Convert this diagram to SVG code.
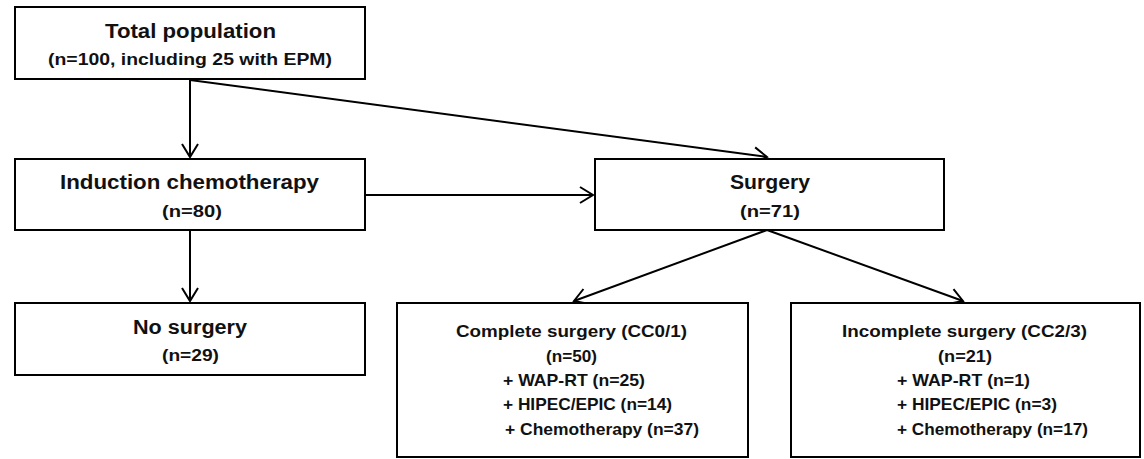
<svg xmlns="http://www.w3.org/2000/svg" width="1144" height="459" viewBox="0 0 1144 459">
<style>
.box{fill:#fff;stroke:#000;stroke-width:2}
.t{font-family:"Liberation Sans",Arial,sans-serif;font-weight:700;fill:#111}
.h{font-size:20px}
.s{font-size:16.5px}
.b{font-size:17px}
.c{stroke:#000;stroke-width:2;fill:none}
</style>
<defs>
<marker id="arr" markerUnits="userSpaceOnUse" viewBox="-15 -10 20 20" refX="0" refY="0" markerWidth="20" markerHeight="20" orient="auto" overflow="visible">
<path d="M-13,-8 L0,0 L-13,8" fill="none" stroke="#000" stroke-width="2"/>
</marker>
</defs>
<rect width="1144" height="459" fill="#fff"/>
<g id="connectors">
<path class="c" d="M190,80 L190,157" marker-end="url(#arr)"/>
<path class="c" d="M190,80 L767,157" marker-end="url(#arr)"/>
<path class="c" d="M365,195 L593,195" marker-end="url(#arr)"/>
<path class="c" d="M190,230 L190,301" marker-end="url(#arr)"/>
<path class="c" d="M767,230 L574,301" marker-end="url(#arr)"/>
<path class="c" d="M767,230 L963,301" marker-end="url(#arr)"/>
</g>
<g id="total">
<rect class="box" x="15" y="7" width="350" height="72"/>
<text class="t h" x="105" y="38" textLength="171" lengthAdjust="spacingAndGlyphs">Total population</text>
<text class="t s" x="48" y="64.5" textLength="284" lengthAdjust="spacingAndGlyphs">(n=100, including 25 with EPM)</text>
</g>
<g id="induction">
<rect class="box" x="15" y="159" width="350" height="71"/>
<text class="t h" x="60" y="189" textLength="259" lengthAdjust="spacingAndGlyphs">Induction chemotherapy</text>
<text class="t s" x="162" y="216.5" textLength="60" lengthAdjust="spacingAndGlyphs">(n=80)</text>
</g>
<g id="surgery">
<rect class="box" x="595" y="159" width="349" height="71"/>
<text class="t h" x="730" y="189" textLength="80" lengthAdjust="spacingAndGlyphs">Surgery</text>
<text class="t s" x="740" y="216.5" textLength="60" lengthAdjust="spacingAndGlyphs">(n=71)</text>
</g>
<g id="nosurgery">
<rect class="box" x="15" y="303" width="350" height="72"/>
<text class="t h" x="133" y="334" textLength="114" lengthAdjust="spacingAndGlyphs">No surgery</text>
<text class="t s" x="162" y="361" textLength="57" lengthAdjust="spacingAndGlyphs">(n=29)</text>
</g>
<g id="complete">
<rect class="box" x="397" y="303" width="351" height="154"/>
<text class="t b" x="456" y="337" textLength="231" lengthAdjust="spacingAndGlyphs">Complete surgery (CC0/1)</text>
<text class="t b" x="546" y="362" textLength="51" lengthAdjust="spacingAndGlyphs">(n=50)</text>
<text class="t b" x="503" y="386" textLength="142" lengthAdjust="spacingAndGlyphs">+ WAP-RT (n=25)</text>
<text class="t b" x="503" y="410" textLength="169" lengthAdjust="spacingAndGlyphs">+ HIPEC/EPIC (n=14)</text>
<text class="t b" x="505" y="435" textLength="194" lengthAdjust="spacingAndGlyphs">+ Chemotherapy (n=37)</text>
</g>
<g id="incomplete">
<rect class="box" x="791" y="303" width="349" height="154"/>
<text class="t b" x="842" y="337" textLength="245" lengthAdjust="spacingAndGlyphs">Incomplete surgery (CC2/3)</text>
<text class="t b" x="938" y="362" textLength="54" lengthAdjust="spacingAndGlyphs">(n=21)</text>
<text class="t b" x="897" y="386" textLength="133" lengthAdjust="spacingAndGlyphs">+ WAP-RT (n=1)</text>
<text class="t b" x="897" y="410" textLength="160" lengthAdjust="spacingAndGlyphs">+ HIPEC/EPIC (n=3)</text>
<text class="t b" x="897" y="435" textLength="191" lengthAdjust="spacingAndGlyphs">+ Chemotherapy (n=17)</text>
</g>
</svg>
